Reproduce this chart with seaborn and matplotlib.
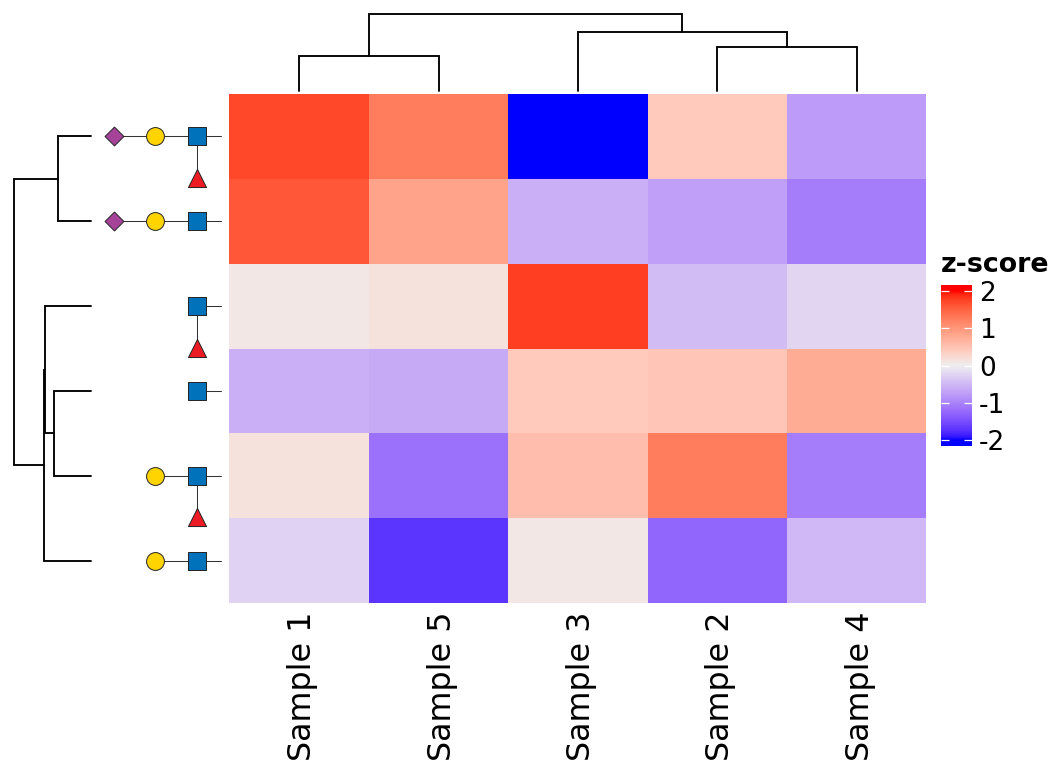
"""Glycan z-score heatmap with dendrograms and residue symbols."""

import matplotlib
matplotlib.use("Agg")
import matplotlib.pyplot as plt
import numpy as np
import pandas as pd
import seaborn as sns
from matplotlib.colors import ListedColormap
from matplotlib.transforms import ScaledTranslation

samples = ["Sample 1", "Sample 5", "Sample 3", "Sample 2", "Sample 4"]
glycan_ids = ["g1", "g2", "g3", "g4", "g5", "g6"]

zscores = [
    [1.72, 1.25, -2.00, 0.42, -0.76],
    [1.60, 0.85, -0.58, -0.73, -1.05],
    [0.08, 0.15, 1.78, -0.47, -0.22],
    [-0.58, -0.63, 0.42, 0.47, 0.75],
    [0.14, -1.17, 0.55, 1.25, -1.05],
    [-0.26, -1.72, 0.08, -1.27, -0.50],
]

# residues per row, from the reducing end outwards
chains = [
    ["GlcNAc", "Gal", "Neu5Ac"],
    ["GlcNAc", "Gal", "Neu5Ac"],
    ["GlcNAc"],
    ["GlcNAc"],
    ["GlcNAc", "Gal"],
    ["GlcNAc", "Gal"],
]
has_fucose = [True, False, True, False, True, False]

# merges: (child a, child b, height); ids above the leaves are earlier merges
col_merges = [(3, 4, 2.19), (0, 1, 1.73), (2, 5, 2.92), (6, 7, 3.82)]
row_merges = [(0, 1, 1.62), (3, 4, 1.82), (2, 7, 2.27), (8, 5, 2.32), (6, 9, 3.82)]

cbar_ticks = [-2, -1, 0, 1, 2]
cbar_labels = ["-2", "-1", "0", "1", "2"]

WIDTH, HEIGHT = 1056, 768
Z_LIMIT = 2.16


def px_axes(fig, x0, y0, x1, y1):
    return fig.add_axes([x0 / WIDTH, 1 - y1 / HEIGHT, (x1 - x0) / WIDTH, (y1 - y0) / HEIGHT])


def rgb_to_lab(rgb):
    rgb = np.asarray(rgb, dtype=float)
    lin = np.where(rgb > 0.04045, ((rgb + 0.055) / 1.055) ** 2.4, rgb / 12.92)
    m = np.array([[0.4124, 0.3576, 0.1805], [0.2126, 0.7152, 0.0722], [0.0193, 0.1192, 0.9505]])
    xyz = m @ lin / np.array([0.9505, 1.0, 1.089])
    f = np.where(xyz > 0.008856, np.cbrt(xyz), 7.787 * xyz + 16 / 116)
    return np.array([116 * f[1] - 16, 500 * (f[0] - f[1]), 200 * (f[1] - f[2])])


def lab_to_rgb(lab):
    fy = (lab[0] + 16) / 116
    f = np.array([fy + lab[1] / 500, fy, fy - lab[2] / 200])
    xyz = np.where(f**3 > 0.008856, f**3, (f - 16 / 116) / 7.787) * np.array([0.9505, 1.0, 1.089])
    m = np.array([[3.2406, -1.5372, -0.4986], [-0.9689, 1.8758, 0.0415], [0.0557, -0.2040, 1.0570]])
    lin = np.clip(m @ xyz, 0, 1)
    return np.clip(np.where(lin > 0.0031308, 1.055 * lin ** (1 / 2.4) - 0.055, 12.92 * lin), 0, 1)


def zscore_cmap():
    # blue / light grey / red mixed in Lab, which is what gives the purple side
    low, mid, high = [rgb_to_lab(c) for c in [(0, 0, 1), (0.933, 0.933, 0.933), (1, 0, 0)]]
    colors = []
    for z in np.linspace(-Z_LIMIT, Z_LIMIT, 256):
        t = min(abs(z) / 2, 1)
        end = high if z > 0 else low
        colors.append(lab_to_rgb(mid + (end - mid) * t))
    return ListedColormap(colors)


def draw_dendrogram(ax, merges, n_leaves, horizontal=False):
    pos = {i: (i + 0.5, 0.0) for i in range(n_leaves)}
    for k, (a, b, height) in enumerate(merges):
        xa, ha = pos[a]
        xb, hb = pos[b]
        xs, ys = [xa, xa, xb, xb], [ha, height, height, hb]
        if horizontal:
            xs, ys = ys, xs
        ax.plot(xs, ys, color="black", lw=1.35, clip_on=False, solid_joinstyle="miter")
        pos[n_leaves + k] = ((xa + xb) / 2, height)
    top = max(m[2] for m in merges)
    if horizontal:
        ax.set_xlim(top, 0)
        ax.set_ylim(n_leaves, 0)
    else:
        ax.set_xlim(0, n_leaves)
        ax.set_ylim(0, top)
    ax.axis("off")


def draw_glycans(ax):
    rows, slots, names = [], [], []
    for row, chain in enumerate(chains):
        ax.plot([-0.585, len(chain) - 1], [row + 0.5, row + 0.5], color="#333333", lw=0.75, zorder=1)
        for slot, name in enumerate(chain):
            rows.append(row + 0.5)
            slots.append(slot)
            names.append(name)
        if has_fucose[row]:
            ax.plot([0, 0], [row + 0.5, row + 0.99], color="#333333", lw=0.75, zorder=1)
            rows.append(row + 0.99)
            slots.append(0)
            names.append("Fuc")
    residues = pd.DataFrame({"slot": slots, "row": rows, "residue": names})
    palette = {"GlcNAc": "#0072BC", "Gal": "#FFD400", "Neu5Ac": "#A54399", "Fuc": "#ED1C24"}
    markers = {"GlcNAc": "s", "Gal": "o", "Neu5Ac": "D", "Fuc": "^"}
    sizes = {"GlcNAc": 160, "Gal": 165, "Neu5Ac": 92, "Fuc": 170}
    for name, part in residues.groupby("residue"):
        sns.scatterplot(
            data=part, x="slot", y="row", color=palette[name], marker=markers[name],
            s=sizes[name], edgecolor="#222222", linewidth=0.7, legend=False,
            clip_on=False, zorder=3, ax=ax,
        )
    ax.set_xlim(2.556, -0.778)
    ax.set_ylim(len(chains), 0)
    ax.axis("off")


sns.set_theme(style="white")
fig = plt.figure(figsize=(WIDTH / 100, HEIGHT / 100), dpi=100)

ax_heat = px_axes(fig, 229.4, 94, 926.4, 603)
ax_cbar = px_axes(fig, 941, 285, 972, 446)
table = pd.DataFrame(zscores, index=glycan_ids, columns=samples)
sns.heatmap(
    table, cmap=zscore_cmap(), vmin=-Z_LIMIT, vmax=Z_LIMIT, ax=ax_heat, cbar_ax=ax_cbar,
    cbar_kws={"ticks": cbar_ticks}, yticklabels=False,
)
ax_heat.set_xlabel("")
ax_heat.set_ylabel("")
ax_heat.tick_params(axis="x", length=0, pad=6, labelsize=22.9, labelcolor="black", labelrotation=90)
shift = ScaledTranslation(3.5 / 100, 0, fig.dpi_scale_trans)
for label in ax_heat.get_xticklabels():
    label.set_transform(label.get_transform() + shift)

ax_cbar.set_axisbelow(False)
ax_cbar.set_yticks(cbar_ticks, cbar_labels)
ax_cbar.tick_params(
    axis="y", direction="in", left=True, right=True, length=5.5, width=0.9,
    color="white", labelsize=19, labelcolor="black", pad=5,
)
for spine in ax_cbar.spines.values():
    spine.set_visible(False)
fig.text(941 / WIDTH, 1 - 272 / HEIGHT, "z-score", fontsize=19.4, fontweight="bold", color="black", va="baseline")

ax_top = px_axes(fig, 229.4, 14.3, 926.4, 90.7)
draw_dendrogram(ax_top, col_merges, len(samples))

ax_left = px_axes(fig, 14.3, 94, 90.7, 603)
draw_dendrogram(ax_left, row_merges, len(glycan_ids), horizontal=True)

ax_glycan = px_axes(fig, 91, 94, 229, 603)
draw_glycans(ax_glycan)

fig.savefig("out.png", dpi=100)
